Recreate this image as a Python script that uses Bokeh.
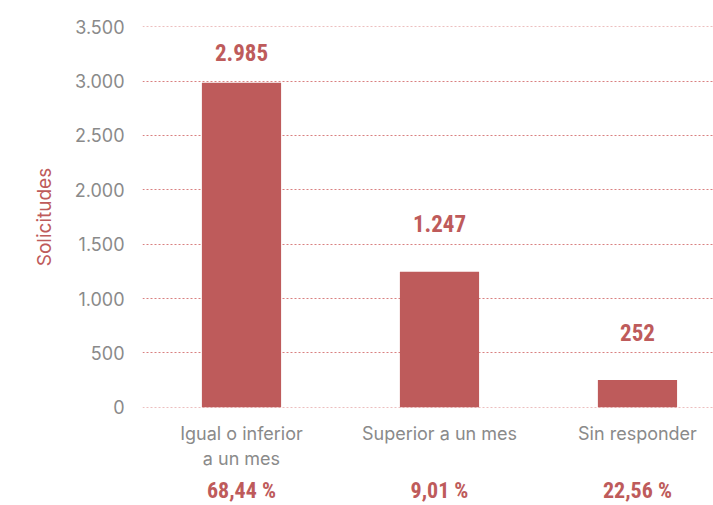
from bokeh.plotting import figure
from bokeh.models import (ColumnDataSource, Range1d, FixedTicker, LinearAxis,
                          CustomJSTickFormatter)
from bokeh.embed import file_html
from bokeh.resources import INLINE
from bokeh.core.properties import value

categories = ["Igual o inferior\na un mes", "Superior a un mes", "Sin responder"]
counts = [2985, 1247, 252]
count_labels = ["2.985", "1.247", "252"]
percents = ["68,44 %", "9,01 %", "22,56 %"]
y_ticks = [0, 500, 1000, 1500, 2000, 2500, 3000, 3500]

RED = "#BE5B5B"
GRAY = "#8A8A8A"
COND = "Roboto Condensed, Liberation Sans Narrow, Roboto"

xs = list(range(len(categories)))
label_y = [min(v + 440, 3260) for v in counts]

src = ColumnDataSource(dict(x=xs, top=counts, ly=label_y, lbl=count_labels))

p = figure(frame_width=571, frame_height=381, output_backend="svg", toolbar_location=None,
           x_range=Range1d(-0.5, 2.384), y_range=Range1d(-1, 3501),
           min_border_left=142, min_border_right=0, min_border_top=26,
           min_border_bottom=90)
p.outline_line_color = None
p.background_fill_color = "white"
p.border_fill_color = "white"

p.vbar(x="x", top="top", width=0.4, source=src, color=RED, line_color=None)
p.text(x="x", y="ly", text="lbl", source=src, text_align="center",
       text_baseline="middle", text_color=RED, text_font_size="23px",
       text_font_style="bold", text_font=value(COND))

# y axis
yax = p.yaxis[0]
yax.ticker = FixedTicker(ticks=y_ticks)
yax.formatter = CustomJSTickFormatter(code="return tick.toString().replace(/\\B(?=(\\d{3})+(?!\\d))/g, '.');")
yax.axis_line_color = None
yax.major_tick_line_color = None
yax.minor_tick_line_color = None
yax.major_label_text_color = GRAY
yax.major_label_text_font = "Inter"
yax.major_label_text_font_size = "18px"
yax.major_label_standoff = 12
yax.axis_label = "Solicitudes"
yax.axis_label_text_color = RED
yax.axis_label_text_font = "Inter"
yax.axis_label_text_font_size = "19px"
yax.axis_label_text_font_style = "normal"
yax.axis_label_standoff = 16

# x axis (categories)
xax = p.xaxis[0]
xax.ticker = FixedTicker(ticks=xs)
xax.major_label_overrides = {i: c for i, c in enumerate(categories)}
xax.axis_line_color = None
xax.major_tick_line_color = None
xax.minor_tick_line_color = None
xax.major_label_text_color = GRAY
xax.major_label_text_font = "Inter"
xax.major_label_text_font_size = "18px"
xax.major_label_standoff = 9

# percentages axis
pax = LinearAxis(ticker=FixedTicker(ticks=xs),
                 major_label_overrides={i: s for i, s in enumerate(percents)})
pax.axis_line_color = None
pax.major_tick_line_color = None
pax.minor_tick_line_color = None
pax.major_label_text_color = RED
pax.major_label_text_font = COND
pax.major_label_text_font_style = "bold"
pax.major_label_text_font_size = "22px"
pax.major_label_standoff = 0
p.add_layout(pax, "below")

p.xgrid.grid_line_color = None
p.ygrid.ticker = FixedTicker(ticks=y_ticks)
p.ygrid.grid_line_color = "#D98080"
p.ygrid.grid_line_dash = "2 2"
p.ygrid.grid_line_width = 1

open("out.html", "w").write(file_html(p, INLINE))
